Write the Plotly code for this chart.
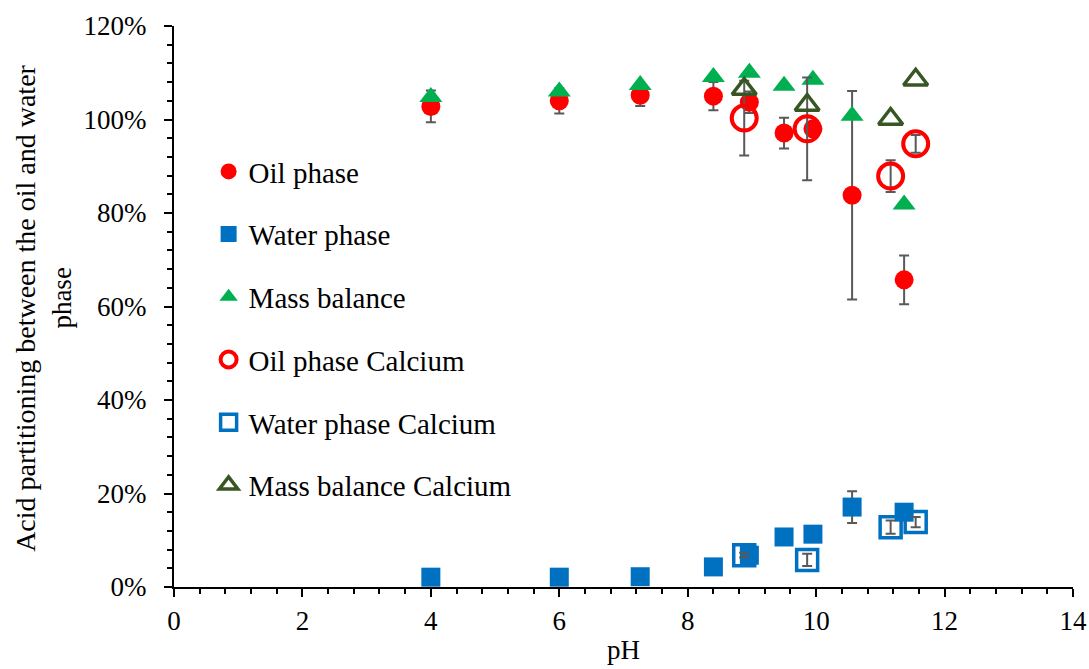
import plotly.graph_objects as go

# pH of the samples without calcium
ph = [4.0, 6.0, 7.26, 8.4, 8.96, 9.5, 9.95, 10.56, 11.37]
oil_phase = [1.028, 1.040, 1.052, 1.050, 1.037, 0.971, 0.980, 0.838, 0.657]
oil_phase_err = [0.034, 0.027, 0.023, 0.030, 0.023, 0.033, 0.0, 0.223, 0.052]
water_phase = [0.021, 0.021, 0.022, 0.043, 0.068, 0.107, 0.113, 0.171, 0.160]
water_phase_err = [0, 0, 0, 0, 0, 0, 0, 0.034, 0]
mass_balance = [1.048, 1.060, 1.074, 1.091, 1.100, 1.072, 1.085, 1.008, 0.818]

# pH of the samples with calcium
ph_ca = [8.88, 9.86, 11.16, 11.55]
oil_phase_ca = [1.003, 0.980, 0.879, 0.948]
oil_phase_ca_err = [0.080, 0.110, 0.034, 0.019]
water_phase_ca = [0.068, 0.058, 0.128, 0.139]
water_phase_ca_err = [0.005, 0.013, 0.014, 0.011]
mass_balance_ca = [1.065, 1.031, 1.001, 1.085]

names = ["Oil phase", "Water phase", "Mass balance",
         "Oil phase Calcium", "Water phase Calcium", "Mass balance Calcium"]

x_title = "pH"
# the y-axis title wraps onto two lines
y_title_lines = ["Acid partitioning between the oil and water", "phase"]

FONT = "Liberation Serif, Times New Roman, serif"
ERR_COLOR = "#595959"


def err(vals):
    return dict(type="data", array=vals, visible=True, color=ERR_COLOR,
                thickness=2, width=5)


fig = go.Figure()

fig.add_trace(go.Scatter(
    x=ph, y=oil_phase, mode="markers", name=names[0], legendgroup="g1",
    marker=dict(symbol="circle", size=19, color="#FF0000"),
    error_y=err(oil_phase_err)))
fig.add_trace(go.Scatter(
    x=ph, y=water_phase, mode="markers", name=names[1], legendgroup="g2",
    marker=dict(symbol="square", size=19, color="#0070C0"),
    error_y=err(water_phase_err)))
fig.add_trace(go.Scatter(
    x=ph, y=mass_balance, mode="markers", name=names[2], legendgroup="g3",
    marker=dict(symbol="triangle-up", size=20, color="#00B050")))
fig.add_trace(go.Scatter(
    x=ph_ca, y=oil_phase_ca, mode="markers", name=names[3], legendgroup="g4",
    marker=dict(symbol="circle-open", size=25, color="#FF0000",
                line=dict(width=4, color="#FF0000")),
    error_y=err(oil_phase_ca_err)))
fig.add_trace(go.Scatter(
    x=ph_ca, y=water_phase_ca, mode="markers", name=names[4], legendgroup="g5",
    marker=dict(symbol="square-open", size=21, color="#0070C0",
                line=dict(width=3.5, color="#0070C0")),
    error_y=err(water_phase_ca_err)))
fig.add_trace(go.Scatter(
    x=ph_ca, y=mass_balance_ca, mode="markers", name=names[5], legendgroup="g6",
    marker=dict(symbol="triangle-up-open", size=21, color="#375623",
                line=dict(width=3.5, color="#375623"))))

fig.update_layout(
    width=1089, height=669,
    margin=dict(l=174, r=16, t=26, b=82, autoexpand=False),
    paper_bgcolor="white", plot_bgcolor="white",
    font=dict(family=FONT, color="black", size=27),
    showlegend=True,
    legend=dict(x=0.0385, y=0.786, xanchor="left", yanchor="top",
                bgcolor="rgba(0,0,0,0)", tracegroupgap=22,
                font=dict(family=FONT, size=29, color="black"),
                itemwidth=30),
    xaxis=dict(range=[0, 14], dtick=2, tick0=0, showgrid=False, zeroline=False,
               automargin=False,
               showline=True, linecolor="black", linewidth=2,
               ticks="outside", ticklen=8, tickwidth=2, tickcolor="black",
               ticklabelstandoff=1,
               minor=dict(dtick=0.4, ticks="outside", ticklen=5, tickwidth=2,
                          tickcolor="black", showgrid=False),
               tickfont=dict(family=FONT, size=27, color="black")),
    yaxis=dict(range=[0, 1.2], dtick=0.2, tick0=0, tickformat=".0%",
               showgrid=False, zeroline=False, automargin=False,
               showline=True, linecolor="black", linewidth=2,
               ticks="outside", ticklen=8, tickwidth=2, tickcolor="black",
               ticklabelstandoff=12,
               minor=dict(dtick=0.04, ticks="outside", ticklen=5, tickwidth=2,
                          tickcolor="black", showgrid=False),
               tickfont=dict(family=FONT, size=27, color="black")),
    annotations=[
        dict(text=x_title, xref="paper", yref="paper", x=0.5, y=-0.113,
             xanchor="center", yanchor="middle", showarrow=False,
             font=dict(family=FONT, size=27, color="black")),
        dict(text=y_title_lines[0], xref="paper", yref="paper",
             x=-0.165, y=0.497, xanchor="center", yanchor="middle",
             textangle=-90, showarrow=False,
             font=dict(family=FONT, size=28, color="black")),
        dict(text=y_title_lines[1], xref="paper", yref="paper",
             x=-0.124, y=0.515, xanchor="center", yanchor="middle",
             textangle=-90, showarrow=False,
             font=dict(family=FONT, size=27, color="black")),
    ],
)

fig.write_html("out.html")
